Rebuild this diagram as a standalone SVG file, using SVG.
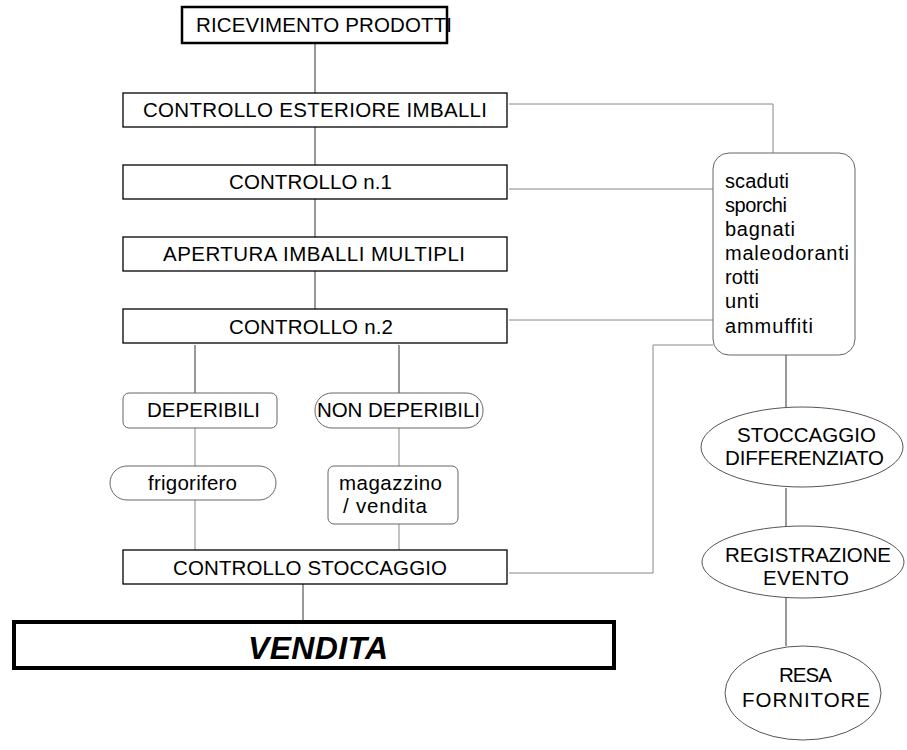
<svg xmlns="http://www.w3.org/2000/svg" width="907" height="750" viewBox="0 0 907 750">
<style>
text{font-family:"Liberation Sans",Arial,sans-serif;font-size:20.5px;fill:#000}
.box{fill:#fff;stroke:#000;stroke-width:1.3}
.soft{fill:#fff;stroke:#666;stroke-width:1}
.ell{fill:#fff;stroke:#555;stroke-width:1}
.c{fill:none;stroke:#333;stroke-width:1}
.g{fill:none;stroke:#888;stroke-width:1}
.l{font-size:20px}
</style>
<rect width="907" height="750" fill="#fff"/>
<g id="connectors">
<line class="c" x1="315" y1="43" x2="315" y2="93"/>
<line class="c" x1="315" y1="127" x2="315" y2="165"/>
<line class="c" x1="315" y1="199" x2="315" y2="237"/>
<line class="c" x1="315" y1="271" x2="315" y2="309"/>
<line class="c" x1="195" y1="345" x2="195" y2="393"/>
<line class="c" x1="399" y1="345" x2="399" y2="393"/>
<line class="g" x1="195" y1="428" x2="195" y2="466"/>
<line class="g" x1="399" y1="428" x2="399" y2="466"/>
<line class="g" x1="195" y1="500" x2="195" y2="550"/>
<line class="g" x1="399" y1="524" x2="399" y2="550"/>
<line class="c" x1="303" y1="584" x2="303" y2="620"/>
<polyline class="g" points="509,104 773,104 773,153"/>
<line class="g" x1="509" y1="189" x2="713" y2="189"/>
<line class="g" x1="509" y1="320" x2="713" y2="320"/>
<polyline class="g" points="713,345 653,345 653,573 509,573"/>
<line class="c" x1="786" y1="355" x2="786" y2="407"/>
<line class="c" x1="786" y1="488" x2="786" y2="526"/>
<line class="c" x1="786" y1="598" x2="786" y2="646"/>
</g>
<g id="ricevimento">
<rect x="182" y="7" width="265" height="36" fill="#fff" stroke="#000" stroke-width="2.5"/>
<text x="196" y="32" textLength="256" lengthAdjust="spacing">RICEVIMENTO PRODOTTI</text>
</g>
<g id="controllo-esteriore">
<rect class="box" x="123" y="93" width="384" height="34"/>
<text x="143" y="117" textLength="344" lengthAdjust="spacing">CONTROLLO ESTERIORE IMBALLI</text>
</g>
<g id="controllo1">
<rect class="box" x="123" y="165" width="384" height="34"/>
<text x="229" y="189" textLength="163" lengthAdjust="spacing">CONTROLLO n.1</text>
</g>
<g id="apertura">
<rect class="box" x="123" y="237" width="384" height="34"/>
<text x="163" y="261" textLength="302" lengthAdjust="spacing">APERTURA IMBALLI MULTIPLI</text>
</g>
<g id="controllo2">
<rect class="box" x="123" y="309" width="384" height="34"/>
<text x="229" y="334" textLength="164" lengthAdjust="spacing">CONTROLLO n.2</text>
</g>
<g id="deperibili">
<rect class="soft" x="123" y="393" width="154" height="35" rx="6"/>
<text x="147" y="417" textLength="113" lengthAdjust="spacing">DEPERIBILI</text>
</g>
<g id="non-deperibili">
<rect class="soft" x="315" y="393" width="168" height="35" rx="17"/>
<text x="317" y="417" textLength="163" lengthAdjust="spacing">NON DEPERIBILI</text>
</g>
<g id="frigorifero">
<rect class="soft" x="110" y="466" width="166" height="34" rx="17"/>
<text x="148" y="490" textLength="89" lengthAdjust="spacing">frigorifero</text>
</g>
<g id="magazzino">
<rect class="soft" x="328" y="466" width="130" height="58" rx="6"/>
<text x="339" y="490" textLength="103" lengthAdjust="spacing">magazzino</text>
<text x="343" y="513" textLength="84" lengthAdjust="spacing">/ vendita</text>
</g>
<g id="controllo-stoccaggio">
<rect class="box" x="123" y="550" width="384" height="34"/>
<text x="173" y="575" textLength="274" lengthAdjust="spacing">CONTROLLO STOCCAGGIO</text>
</g>
<g id="vendita">
<rect x="14" y="622" width="600" height="46" fill="#fff" stroke="#000" stroke-width="4"/>
<text x="248" y="659" textLength="140" lengthAdjust="spacing" style="font-size:32px;font-weight:bold;font-style:italic">VENDITA</text>
</g>
<g id="difetti">
<rect class="soft" x="713" y="153" width="142" height="202" rx="16"/>
<text class="l" x="725" y="188" textLength="64" lengthAdjust="spacing">scaduti</text>
<text class="l" x="725" y="212" textLength="62" lengthAdjust="spacing">sporchi</text>
<text class="l" x="725" y="236" textLength="70" lengthAdjust="spacing">bagnati</text>
<text class="l" x="725" y="260" textLength="124" lengthAdjust="spacing">maleodoranti</text>
<text class="l" x="725" y="284" textLength="34" lengthAdjust="spacing">rotti</text>
<text class="l" x="725" y="308" textLength="34" lengthAdjust="spacing">unti</text>
<text class="l" x="725" y="333" textLength="88" lengthAdjust="spacing">ammuffiti</text>
</g>
<g id="stoccaggio-differenziato">
<ellipse class="ell" cx="802" cy="447" rx="101" ry="40"/>
<text x="737" y="442" textLength="139" lengthAdjust="spacing">STOCCAGGIO</text>
<text x="725" y="465" textLength="159" lengthAdjust="spacing">DIFFERENZIATO</text>
</g>
<g id="registrazione-evento">
<ellipse class="ell" cx="803" cy="562" rx="101" ry="36"/>
<text x="725" y="562" textLength="166" lengthAdjust="spacing">REGISTRAZIONE</text>
<text x="763" y="585" textLength="86" lengthAdjust="spacing">EVENTO</text>
</g>
<g id="resa-fornitore">
<ellipse class="ell" cx="803" cy="693" rx="78" ry="47"/>
<text x="779" y="682" textLength="53" lengthAdjust="spacing">RESA</text>
<text x="742" y="707" textLength="128" lengthAdjust="spacing">FORNITORE</text>
</g>
</svg>
